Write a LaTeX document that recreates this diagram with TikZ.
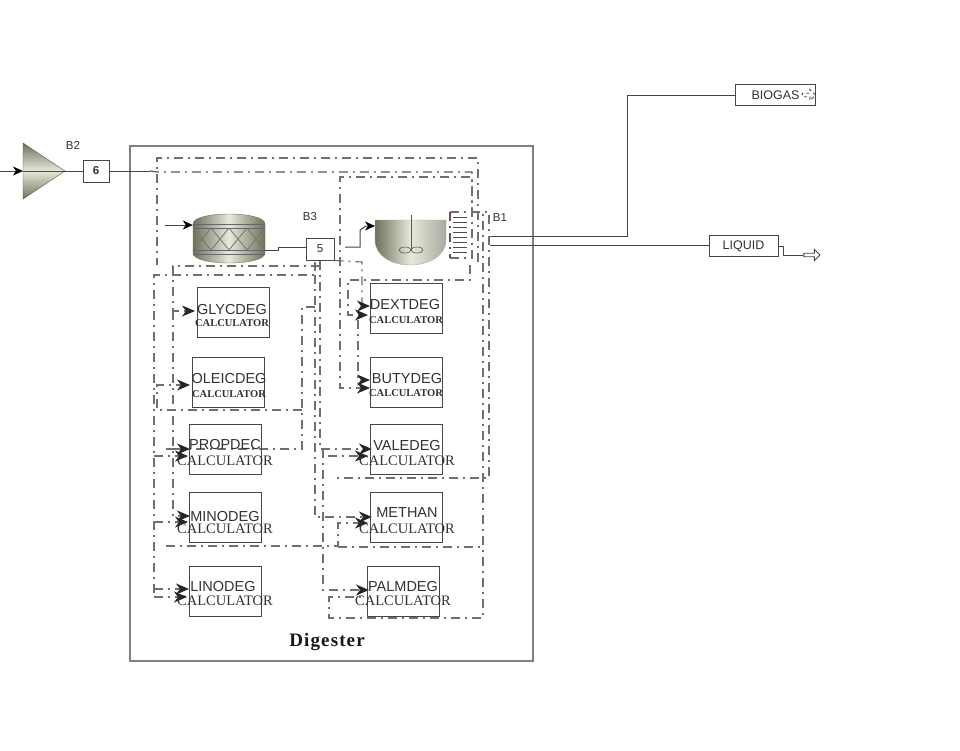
\documentclass[tikz,border=0pt]{standalone}
\usepackage{fontspec}
\setmainfont{Liberation Sans}
\newfontfamily\slabfont{Liberation Serif}
\newfontfamily\digfont[LetterSpace=6]{Liberation Serif}
\usetikzlibrary{positioning,arrows.meta,calc,shapes.arrows}
\definecolor{LineGrey}{RGB}{70,70,70}
\definecolor{SignalGrey}{RGB}{112,112,112}
\definecolor{SignalBrown}{RGB}{110,80,75}
\definecolor{TextGrey}{RGB}{50,50,50}
\definecolor{VesselDark}{RGB}{112,112,92}
\definecolor{VesselLight}{RGB}{232,232,220}
\tikzset{
  flow/.style={draw=LineGrey,line width=1pt},
  tipflow/.style={flow,-{Stealth[length=10pt,width=9pt,inset=3pt,black]}},
  signal/.style={draw=SignalGrey,line width=1.15pt,dash pattern=on 9pt off 5pt on 2pt off 5pt},
  brownsignal/.style={signal,draw=SignalBrown},
  tipsignal/.style={signal,-{Stealth[length=13pt,width=11pt,inset=4pt,black!85]}},
  frame/.style={draw=gray,line width=1.1pt},
  numbox/.style={draw=LineGrey,line width=1pt,fill=white,font=\fontsize{11.5}{12}\selectfont,text=TextGrey,inner sep=0pt},
  tagbox/.style={draw=LineGrey,line width=1pt,fill=white,font=\fontsize{12.5}{13}\selectfont,text=TextGrey,inner sep=0pt},
  calcbox/.style={draw=LineGrey,line width=1pt,minimum width=72pt,minimum height=50pt,inner sep=0pt},
  calcname/.style={font=\fontsize{14.5}{15}\selectfont,text=TextGrey,inner sep=0pt},
  calcsmall/.style={font=\slabfont\bfseries\fontsize{10.5}{11}\selectfont,text=TextGrey,inner sep=0pt},
  calcbig/.style={font=\slabfont\fontsize{14.5}{15}\selectfont,text=TextGrey,inner sep=0pt},
  blocktag/.style={font=\fontsize{11.5}{12}\selectfont,text=TextGrey,inner sep=0pt}
}
\begin{document}
\begin{tikzpicture}[x=1pt,y=-1pt]
  \useasboundingbox (0,0) rectangle (960,750);
  \fill[white] (0,0) rectangle (960,750);
  \node[frame,minimum width=403pt,minimum height=515pt,inner sep=0pt] (digbox) at (331.5,403.5) {};
  \node[font=\digfont\bfseries\fontsize{19}{19}\selectfont,text=black!90] (digtitle) at (327,642) {Digester};

  % feed and splitter
  \coordinate (feedin) at (0,171);
  \coordinate (b2left) at (23,171);
  \coordinate (feedend) at (150,171);
  \shade[top color=VesselDark,bottom color=VesselDark,middle color=VesselLight,draw=VesselDark!70!black]
    (23,143) -- (65,171) -- (23,199) -- cycle;
  \node[numbox,font=\fontsize{11.5}{12}\selectfont\bfseries,minimum width=26pt,minimum height=22pt] (num6) at (96,171) {6};
  \draw[tipflow] (feedin) -- (b2left);
  \draw[flow] (b2left) -- (num6);
  \draw[flow] (num6) -- (feedend);
  \node[blocktag] (b2tag) at (73,145) {B2};

  % packed reactor
  \node[minimum width=72pt,minimum height=47pt,inner sep=0pt] (b3) at (229,238.5) {};
  \shade[left color=VesselDark,right color=VesselDark,middle color=VesselLight,draw=VesselDark]
    (193,224) .. controls (193,217) and (212,214) .. (229,214) .. controls (246,214) and (265,217) .. (265,224)
    -- (265,253) .. controls (265,260) and (246,263) .. (229,263) .. controls (212,263) and (193,260) .. (193,253) -- cycle;
  \foreach \ya in {224,228,250,254} \draw[black!60,line width=0.9pt] (193,\ya) -- (265,\ya);
  \foreach \xa in {193,211,229,247} {
    \draw[black!55,line width=0.8pt] (\xa,228) -- (\xa+18,250);
    \draw[black!55,line width=0.8pt] (\xa,250) -- (\xa+18,228);
  }
  \coordinate (b3in) at (165,225);
  \node[numbox,minimum width=28pt,minimum height=22pt] (num5) at (320,249) {5};
  \node[blocktag] (b3tag) at (310,217) {B3};
  \draw[tipflow] (b3in) -- (b3.west |- b3in);
  \draw[flow] (b3.east |- 0,250) -- (278,250) -- (278,247) -- (num5.west |- 0,247);

  % stirred vessel
  \coordinate (cstrout) at (345,247);
  \coordinate (cstrin) at (375,226);
  \shade[left color=VesselDark,right color=VesselDark!60,middle color=VesselLight,draw=VesselDark!60]
    (375,220) -- (446,220) -- (446,240) .. controls (446,256) and (428,265) .. (410,265)
    .. controls (392,265) and (375,256) .. (375,240) -- cycle;
  \draw[black!65,line width=0.8pt] (411,215) -- (411,250);
  \draw[black!65,line width=0.6pt] (405,250) ellipse (6pt and 3pt);
  \draw[black!65,line width=0.6pt] (417,250) ellipse (6pt and 3pt);
  \draw[tipflow] (cstrout) -- (360,247) -- (360,230) -- (366,226) -- (cstrin);

  % stacked outlet unit
  \foreach \ya in {217,222,227,232,237,242,247,252}
    \draw[black!70,line width=0.9pt] (453,\ya) -- (467,\ya);
  \node[blocktag,fill=white,inner sep=1pt] (b1tag) at (500,218) {B1};

  % product streams
  \coordinate (gasout) at (490,236);
  \coordinate (liqout) at (490,245);
  \node[tagbox,minimum width=80pt,minimum height=21pt] (biogas) at (775.5,95) {BIOGAS\hspace{12pt}};
  \node[tagbox,minimum width=69pt,minimum height=21pt] (liquid) at (743.5,246) {LIQUID};
  \node[single arrow,draw=LineGrey,fill=white,line width=0.9pt,minimum width=11pt,single arrow head extend=2pt,
    minimum height=16pt,inner sep=0.5pt] (liqarrow) at (811,255) {};
  \node[single arrow,draw=LineGrey,line width=0.9pt,dashed,minimum width=11pt,single arrow head extend=2pt,
    minimum height=13pt,inner sep=0.5pt] (gasarrow) at (808,95) {};
  \draw[flow] (gasout) -- (627,236) -- (627,95) -- (biogas);
  \draw[flow] (liqout) -- (liquid.west |- liqout);
  \draw[flow] (liquid.east) -- (783,246) -- (783,255) -- (liqarrow);

  % signal ports
  \coordinate (b1a) at (478,262);
  \coordinate (b1b) at (472,212);
  \coordinate (b1c) at (450,258);
  \coordinate (b1d) at (450,212);
  \coordinate (b1e) at (470,265);
  \coordinate (leftend) at (157,265);
  \coordinate (b5side) at (315,307);
  \coordinate (glycin) at (195,311);
  \coordinate (olein) at (190,385);
  \coordinate (propin) at (190,449);
  \coordinate (propinb) at (188,456);
  \coordinate (minoin) at (190,516);
  \coordinate (minoinb) at (188,522);
  \coordinate (linoin) at (189,589);
  \coordinate (linoinb) at (187,597);
  \coordinate (dextin) at (370,306);
  \coordinate (dextinb) at (368,315);
  \coordinate (butyin) at (370,388);
  \coordinate (butyinb) at (370,380);
  \coordinate (valein) at (372,449);
  \coordinate (valeinb) at (368,456);
  \coordinate (methin) at (372,517);
  \coordinate (methinb) at (368,523);
  \coordinate (palmin) at (369,590);
  \coordinate (palminb) at (365,597);

  % signal loops
  \draw[signal] (b1a) -- (478,158) -- (157,158) -- (leftend);
  \draw[brownsignal] (feedend) -- (157,172) -- (472,172) -- (b1b);
  \draw[tipsignal] (b1c) -- (472,258) -- (472,177) -- (340,177) -- (340,388) -- (butyin);
  \draw[signal] (b1d) -- (483,212) -- (483,618) -- (329,618) -- (329,597) -- (palminb);
  \draw[signal] (b1d) -- (489,212) -- (489,478) -- (335,478);
  \draw[brownsignal] (b1d) -- (b1c);
  \draw[tipsignal] (b1e) -- (470,280) -- (348,280) -- (348,315) -- (dextinb);
  \draw[tipsignal] (num5.south east) -- (362,262) -- (362,306) -- (dextin);
  \draw[tipsignal] (358,320) -- (358,380) -- (butyinb);
  \draw[tipsignal] (num5.south) -- (320,449) -- (valein);
  \draw[signal] (315,262) -- (315,275) -- (154,275) -- (154,597);
  \draw[tipsignal] (154,597) -- (linoinb);
  \draw[tipsignal] (154,589) -- (linoin);
  \draw[tipsignal] (154,456) -- (propinb);
  \draw[tipsignal] (154,522) -- (minoinb);
  \draw[tipsignal] (320,266) -- (173,266) -- (173,311) -- (glycin);
  \draw[tipsignal] (173,311) -- (173,516) -- (minoin);
  \draw[signal] (b5side) -- (302,307) -- (302,449) -- (173,449);
  \draw[tipsignal] (166,449) -- (propin);
  \draw[tipsignal] (302,410) -- (157,410) -- (157,385) -- (olein);
  \draw[tipsignal] (315,275) -- (315,517) -- (methin);
  \draw[tipsignal] (323,449) -- (323,590) -- (palmin);
  \draw[tipsignal] (166,546) -- (338,546) -- (338,523) -- (methinb);
  \draw[signal] (338,547) -- (483,547);
  \draw[tipsignal] (328,456) -- (valeinb);

  % calculator blocks
  \node[calcbox] (glycdeg) at (233,312.5) {};
  \node[calcname] (glycname) at (232,310) {GLYCDEG};
  \node[calcsmall] (glycsub) at (232,323) {CALCULATOR};
  \node[calcbox] (oleicdeg) at (228.5,382.5) {};
  \node[calcname] (oleicname) at (229,378) {OLEICDEG};
  \node[calcsmall] (oleicsub) at (229,394) {CALCULATOR};
  \node[calcbox] (propdeg) at (225,449.5) {};
  \node[calcname,text height=10pt,text depth=0pt] (propname) at (225,444) {PROPDEC};
  \node[calcbig] (propsub) at (225,461) {CALCULATOR};
  \node[calcbox] (minodeg) at (225,517.5) {};
  \node[calcname] (mininame) at (225,516) {MINODEG};
  \node[calcbig] (minosub) at (225,529) {CALCULATOR};
  \node[calcbox] (linodeg) at (225,591) {};
  \node[calcname] (linoname) at (223,586) {LINODEG};
  \node[calcbig] (linosub) at (225,601) {CALCULATOR};
  \node[calcbox] (dextdeg) at (406.5,308.5) {};
  \node[calcname] (dextname) at (405,305) {DEXTDEG};
  \node[calcsmall] (dextsub) at (406,320) {CALCULATOR};
  \node[calcbox] (butydeg) at (406.5,382) {};
  \node[calcname] (butyname) at (407,378) {BUTYDEG};
  \node[calcsmall] (butysub) at (406,393) {CALCULATOR};
  \node[calcbox] (valedeg) at (406.5,449.5) {};
  \node[calcname] (valename) at (407,445) {VALEDEG};
  \node[calcbig] (valesub) at (407,461) {CALCULATOR};
  \node[calcbox] (methan) at (406.5,517) {};
  \node[calcname] (methname) at (407,513) {METHAN};
  \node[calcbig] (methsub) at (407,529) {CALCULATOR};
  \node[calcbox] (palmdeg) at (403,591) {};
  \node[calcname] (palmname) at (403,586) {PALMDEG};
  \node[calcbig] (palmsub) at (403,601) {CALCULATOR};
\end{tikzpicture}
\end{document}
